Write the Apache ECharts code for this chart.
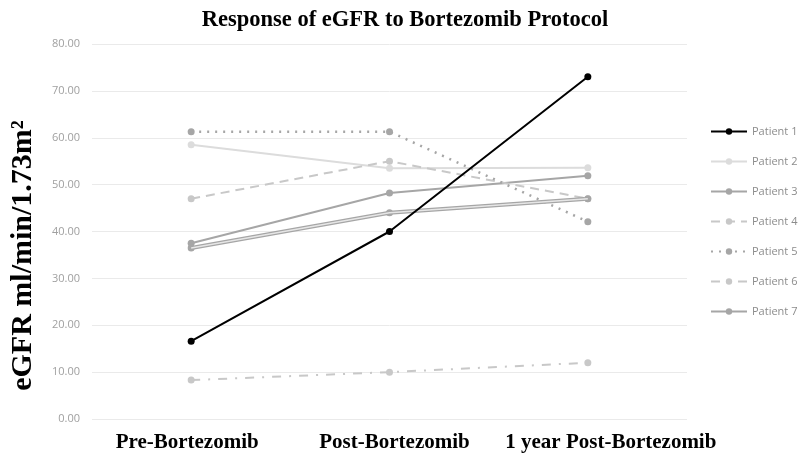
<!DOCTYPE html>
<html>
<head>
<meta charset="utf-8">
<script src="https://cdn.jsdelivr.net/npm/echarts@6/dist/echarts.min.js"></script>
<style>
  html, body { margin: 0; padding: 0; background: #fff; }
  #chart { width: 800px; height: 463px; }
</style>
</head>
<body>
<div id="chart"></div>
<script>
  // time points
  const categories = ['Pre-Bortezomib', 'Post-Bortezomib', '1 year Post-Bortezomib']
  const patientNames = ['Patient 1', 'Patient 2', 'Patient 3', 'Patient 4', 'Patient 5', 'Patient 6', 'Patient 7']

  // eGFR values per patient
  const patient1 = [16.6, 40.0, 73.0]
  const patient2 = [58.5, 53.5, 53.6]
  const patient3 = [37.5, 48.2, 51.9]
  const patient4 = [47.0, 55.0, 47.0]
  const patient5 = [61.3, 61.3, 42.1]
  const patient6 = [8.3, 10.0, 12.0]
  const patient7 = [36.5, 44.0, 47.0]

  const serif = '"Liberation Serif", "DejaVu Serif", serif'
  const sans = '"Open Sans", "Liberation Sans", sans-serif'

  function line (name, data, color, width, type, symbolColor) {
    return {
      name: name,
      type: 'line',
      data: data,
      symbol: 'circle',
      symbolSize: 7,
      lineStyle: { color: color, width: width, type: type },
      itemStyle: { color: symbolColor || color },
      emphasis: { disabled: true },
      z: 2
    }
  }

  const chart = echarts.init(document.getElementById('chart'))

  const series = [
    line('Patient 1', patient1, '#000000', 2, 'solid'),
    line('Patient 2', patient2, '#dcdcdc', 2, 'solid'),
    line('Patient 3', patient3, '#a6a6a6', 2, 'solid'),
    line('Patient 4', patient4, '#c8c8c8', 2, [9, 6]),
    line('Patient 5', patient5, '#a6a6a6', 2.5, [2, 6]),
    line('Patient 6', patient6, '#c8c8c8', 2, [9, 8, 2, 8]),
    line('Patient 7', patient7, '#a6a6a6', 4, 'solid'),
    // inner stroke of the double line for patient 7
    {
      name: 'p7inner',
      type: 'line',
      data: patient7,
      symbol: 'none',
      lineStyle: { color: '#e6e6e6', width: 1.5 },
      emphasis: { disabled: true },
      z: 3
    }
  ]
  series[0].z = 5

  const labelStyle = { fontFamily: serif, fontSize: 21, fontWeight: 'bold', color: '#000' }

  chart.setOption({
    animation: false,
    title: {
      text: 'Response of eGFR to Bortezomib Protocol',
      left: 400,
      textAlign: 'center',
      top: 4,
      textStyle: { fontFamily: serif, fontSize: 22.5, fontWeight: 'bold', color: '#000' }
    },
    legend: {
      data: patientNames,
      orient: 'vertical',
      left: 705,
      top: 121,
      itemWidth: 36,
      itemHeight: 8,
      itemGap: 19,
      textStyle: { fontFamily: sans, fontSize: 11, color: '#8c8c8c' }
    },
    grid: { left: 89, right: 113, top: 44, bottom: 44, containLabel: false },
    xAxis: {
      type: 'category',
      data: categories,
      boundaryGap: true,
      axisLine: { show: false },
      axisTick: { show: false },
      axisLabel: {
        interval: 0,
        margin: 13,
        formatter: function (v, i) { return '{c' + i + '|' + v + '}' },
        rich: {
          c0: Object.assign({ padding: [0, 8, 0, 0] }, labelStyle),
          c1: Object.assign({ padding: [0, 0, 0, 10] }, labelStyle),
          c2: Object.assign({ padding: [0, 0, 0, 46] }, labelStyle)
        }
      }
    },
    yAxis: {
      type: 'value',
      min: 0,
      max: 80,
      interval: 10,
      name: 'eGFR ml/min/1.73m²',
      nameLocation: 'middle',
      nameGap: 54,
      nameTextStyle: { fontFamily: serif, fontSize: 30, fontWeight: 'bold', color: '#000', padding: [0, 48, 0, 0] },
      axisLine: { show: false },
      axisTick: { show: false },
      axisLabel: {
        margin: 12,
        fontFamily: sans,
        fontSize: 11,
        color: '#a0a0a0',
        formatter: function (v) { return v.toFixed(2) }
      },
      splitLine: { lineStyle: { color: '#eaeaea', width: 1 } }
    },
    series: series
  })
</script>
</body>
</html>
